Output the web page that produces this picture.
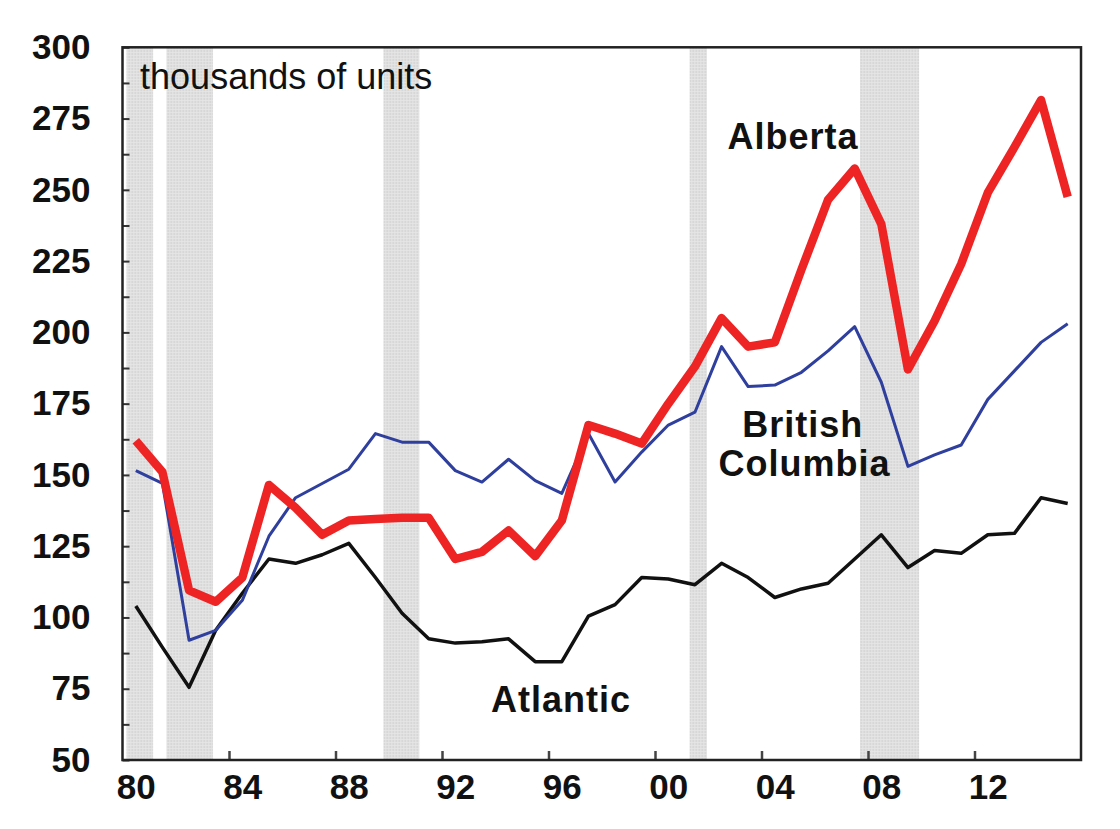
<!DOCTYPE html>
<html>
<head>
<meta charset="utf-8">
<script src="https://cdn.jsdelivr.net/npm/d3@7"></script>
<style>
  body { margin: 0; background: #fff; }
  text { font-family: 'Liberation Sans', Arial, sans-serif; fill: #111; }
  .axis text { font-size: 35px; font-weight: bold; }
  .axis .domain { display: none; }
  .series-label { font-size: 36px; font-weight: bold; letter-spacing: 1px; }
</style>
</head>
<body>
<div id="chart-1"></div>
<script>
// housing starts by region, thousands of units
let years = d3.range(1980, 2016)

let alberta = [162, 151, 109.5, 105.5, 114, 146.5, 138.5, 129, 134, 134.5, 135, 135,
  120.5, 123, 130.5, 121.5, 134, 167.5, 164.5, 161, 175, 188, 205, 195, 196.5,
  222, 246.5, 257.5, 238, 187, 204, 224, 249, 265, 281.5, 247.5]

let britishColumbia = [151.5, 147, 92, 95.5, 106, 128.5, 142, 147, 152, 164.5, 161.5, 161.5,
  151.5, 147.5, 155.5, 148, 143.5, 164.5, 147.5, 158, 167.5, 172, 195, 181, 181.5,
  186, 193.5, 202, 182.5, 153, 157, 160.5, 176.5, 186.5, 196.5, 203]

let atlantic = [104, 89.5, 75.5, 95.5, 108.5, 120.5, 119, 122, 126, 114, 101.5, 92.5,
  91, 91.5, 92.5, 84.5, 84.5, 100.5, 104.5, 114, 113.5, 111.5, 119, 114, 107,
  110, 112, 120.5, 129, 117.5, 123.5, 122.5, 129, 129.5, 142, 140]

// recession periods (decimal years)
let recessionStart = [1980.15, 1981.65, 1989.8, 2001.3, 2007.7]
let recessionEnd = [1981.15, 1983.4, 1991.15, 2001.95, 2009.92]

let xTickYears = [1980, 1984, 1988, 1992, 1996, 2000, 2004, 2008, 2012]
let yTickValues = d3.range(50, 300.1, 12.5)

let margin = { top: 47.3, left: 122.5, right: 39, bottom: 69 }

let height = 829 - margin.top - margin.bottom
let width = 1120 - margin.left - margin.right

let svg = d3
  .select('#chart-1')
  .append('svg')
  .attr('height', height + margin.top + margin.bottom)
  .attr('width', width + margin.left + margin.right)

let defs = svg.append('defs')
let pattern = defs
  .append('pattern')
  .attr('id', 'halftone')
  .attr('patternUnits', 'userSpaceOnUse')
  .attr('width', 3)
  .attr('height', 3)
pattern.append('rect').attr('width', 3).attr('height', 3).attr('fill', '#e6e6e6')
pattern.append('rect').attr('width', 1.5).attr('height', 1.5).attr('fill', '#c9c9c9')

let g = svg
  .append('g')
  .attr('transform', 'translate(' + margin.left + ',' + margin.top + ')')

let xPositionScale = d3
  .scaleLinear()
  .domain([1980, 2016])
  .range([0, width])

let yPositionScale = d3
  .scaleLinear()
  .domain([50, 300])
  .range([height, 0])

// recession shading
let recessions = recessionStart.map((s, i) => ({ start: s, end: recessionEnd[i] }))
g.selectAll('.recession')
  .data(recessions)
  .enter()
  .append('rect')
  .attr('class', 'recession')
  .attr('x', d => xPositionScale(d.start))
  .attr('width', d => xPositionScale(d.end) - xPositionScale(d.start))
  .attr('y', 0)
  .attr('height', height)
  .attr('fill', 'url(#halftone)')

// y axis with inward ticks
let yAxis = d3
  .axisLeft(yPositionScale)
  .tickValues(yTickValues)
  .tickSize(-7)
  .tickPadding(32)
  .tickFormat(d => (d % 25 === 0 ? d : ''))
let yAxisG = g.append('g').attr('class', 'axis y-axis').call(yAxis)
yAxisG.selectAll('line').attr('stroke', '#333').attr('stroke-width', 2)
yAxisG.selectAll('text').attr('dy', '0.32em')

// x axis: tick marks at year boundaries, labels at year centres
let xTicks = d3
  .axisBottom(xPositionScale)
  .tickValues(xTickYears.slice(1))
  .tickSize(-9)
  .tickFormat('')
let xTickG = g
  .append('g')
  .attr('class', 'axis x-ticks')
  .attr('transform', 'translate(0,' + height + ')')
  .call(xTicks)
xTickG.selectAll('line').attr('stroke', '#444').attr('stroke-width', 2.5)

let xLabels = d3
  .axisBottom(xPositionScale)
  .tickValues(xTickYears.map(d => d + 0.5))
  .tickSize(0)
  .tickPadding(14)
  .tickFormat(d => String(Math.floor(d)).slice(2))
let xLabelG = g
  .append('g')
  .attr('class', 'axis x-labels')
  .attr('transform', 'translate(0,' + height + ')')
  .call(xLabels)
xLabelG.selectAll('text').attr('dy', '0.71em')

// lines
let line = d3
  .line()
  .x(d => xPositionScale(d.year + 0.5))
  .y(d => yPositionScale(d.value))

let series = [
  { name: 'Atlantic', values: atlantic, color: '#111111', width: 3.5 },
  { name: 'British Columbia', values: britishColumbia, color: '#2f3f9e', width: 3 },
  { name: 'Alberta', values: alberta, color: '#ee2424', width: 8.5 }
]

g.selectAll('.series')
  .data(series)
  .enter()
  .append('path')
  .attr('class', 'series')
  .attr('fill', 'none')
  .attr('stroke', d => d.color)
  .attr('stroke-width', d => d.width)
  .attr('stroke-linejoin', 'round')
  .attr('d', d => line(d.values.map((v, i) => ({ year: years[i], value: v }))))

// frame
g.append('rect')
  .attr('x', 0)
  .attr('y', 0)
  .attr('width', width)
  .attr('height', height)
  .attr('fill', 'none')
  .attr('stroke', '#222')
  .attr('stroke-width', 2.5)

// annotations
g.append('text')
  .attr('x', xPositionScale(1980.66))
  .attr('y', yPositionScale(285.4))
  .attr('font-size', 36)
  .text('thousands of units')

g.append('text')
  .attr('class', 'series-label')
  .attr('text-anchor', 'middle')
  .attr('x', xPositionScale(2005.18))
  .attr('y', yPositionScale(264.3))
  .text('Alberta')

let bc = g
  .append('text')
  .attr('class', 'series-label')
  .attr('text-anchor', 'middle')
bc.append('tspan')
  .attr('x', xPositionScale(2005.55))
  .attr('y', yPositionScale(163.4))
  .text('British')
bc.append('tspan')
  .attr('x', xPositionScale(2005.62))
  .attr('y', yPositionScale(149.6))
  .text('Columbia')

g.append('text')
  .attr('class', 'series-label')
  .attr('text-anchor', 'middle')
  .attr('x', xPositionScale(1996.47))
  .attr('y', yPositionScale(66.8))
  .text('Atlantic')
</script>
</body>
</html>
